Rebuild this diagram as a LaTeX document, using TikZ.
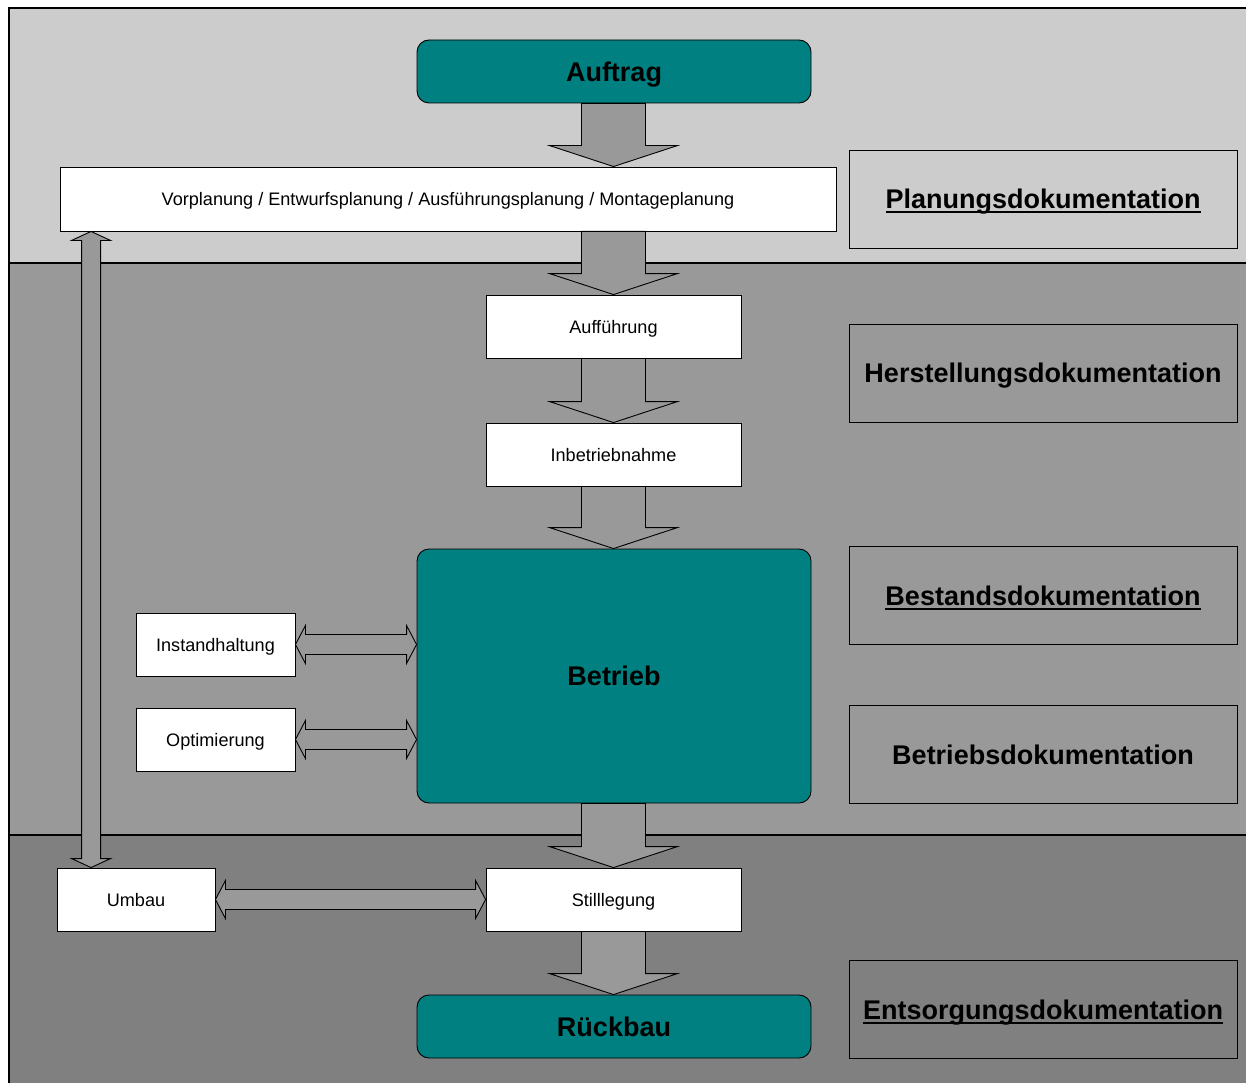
\documentclass[tikz,border=0pt]{standalone}
\usepackage{fontspec}
\setmainfont{Liberation Sans}
\usetikzlibrary{calc}
\definecolor{bandA}{HTML}{CCCCCC}
\definecolor{bandB}{HTML}{999999}
\definecolor{bandC}{HTML}{808080}
\definecolor{tealbox}{HTML}{008080}
\definecolor{arrowfill}{HTML}{999999}
\newcommand\myul[1]{\setbox0\hbox{#1}\rlap{\rule[-4.6pt]{\wd0}{2pt}}\box0}
\newcommand\vblk[2]{%
  \coordinate (bs) at (#1.south -| auf.center);
  \coordinate (be) at (#2.north -| auf.center);
  \draw[blkarrow] ($(bs)+(-32,0)$) -- ($(bs)+(32,0)$) -- ($(be)+(32,-21)$) -- ($(be)+(64,-21)$) -- (be) -- ($(be)+(-64,-21)$) -- ($(be)+(-32,-21)$) -- cycle;}
\newcommand\hdbl[2]{%
  \coordinate (hs) at (#1.east);
  \coordinate (he) at (#2.west |- #1.east);
  \draw[blkarrow] (hs) -- ($(hs)+(10,-19)$) -- ($(hs)+(10,-10)$) -- ($(he)+(-10,-10)$) -- ($(he)+(-10,-19)$) -- (he) -- ($(he)+(-10,19)$) -- ($(he)+(-10,10)$) -- ($(hs)+(10,10)$) -- ($(hs)+(10,19)$) -- cycle;}
\tikzset{
  blkarrow/.style={draw=black, fill=arrowfill, line width=0.9pt, line join=miter},
  whitebox/.style={draw=black, fill=white, line width=0.9pt, inner sep=0pt, text depth=0pt, font=\fontsize{18.1}{20}\selectfont},
  tealnode/.style={draw=black, fill=tealbox, line width=0.9pt, rounded corners=12pt, inner sep=0pt, text depth=0pt, minimum width=394pt, font=\fontsize{27}{30}\selectfont\bfseries},
  docbox/.style={draw=black, line width=0.9pt, inner sep=0pt, text depth=0pt, minimum width=388pt, minimum height=98pt, font=\fontsize{27}{30}\selectfont\bfseries},
  bandline/.style={draw=black, line width=1.2pt}
}
\begin{document}
\begin{tikzpicture}[x=1pt,y=-1pt]
\useasboundingbox (0,0) rectangle (1246,1083);
% bands
\fill[bandA] (9,8) rectangle (1246,263);
\fill[bandB] (9,263) rectangle (1246,835);
\fill[bandC] (9,835) rectangle (1246,1083);
\draw[bandline] (1246,8) -- (9,8) -- (9,1083);
\draw[bandline] (9,263) -- (1246,263);
\draw[bandline] (9,835) -- (1246,835);
% main nodes
\node[tealnode, minimum height=63pt] (auftrag) at (614,71.5) {Auftrag};
\node[whitebox, minimum width=776pt, minimum height=64pt] (vor) at (448,199) {Vorplanung / Entwurfsplanung / Ausführungsplanung / Montageplanung};
\node[whitebox, minimum width=255pt, minimum height=63pt] (auf) at (613.5,326.5) {Aufführung};
\node[whitebox, minimum width=255pt, minimum height=63pt] (inb) at (613.5,454.5) {Inbetriebnahme};
\node[tealnode, minimum height=254pt] (betrieb) at (614,676) {Betrieb};
\node[whitebox, minimum width=159pt, minimum height=63pt] (inst) at (215.5,644.5) {Instandhaltung};
\node[whitebox, minimum width=159pt, minimum height=63pt] (opt) at (215.5,739.5) {Optimierung};
\node[whitebox, minimum width=158pt, minimum height=63pt] (umbau) at (136,899.5) {Umbau};
\node[whitebox, minimum width=255pt, minimum height=63pt] (still) at (613.5,899.5) {Stilllegung};
\node[tealnode, minimum height=63pt] (rueck) at (614,1026.5) {Rückbau};
% documentation boxes
\node[docbox] (dplan) at (1043,199) {\myul{Planungsdokumentation}};
\node[docbox] (dherst) at (1043,373) {Herstellungsdokumentation};
\node[docbox] (dbest) at (1043,595.5) {\myul{Bestandsdokumentation}};
\node[docbox] (dbetr) at (1043,754.5) {Betriebsdokumentation};
\node[docbox] (dents) at (1043,1009.5) {\myul{Entsorgungsdokumentation}};
% block arrows down
\vblk{auftrag}{vor}
\vblk{vor}{auf}
\vblk{auf}{inb}
\vblk{inb}{betrieb}
\vblk{betrieb}{still}
\vblk{still}{rueck}
% horizontal double arrows
\hdbl{inst}{betrieb}
\hdbl{opt}{betrieb}
\hdbl{umbau}{still}
% vertical double arrow
\coordinate (vt) at ($(vor.south west)+(31.5,0)$);
\coordinate (vb) at (vt |- umbau.north);
\draw[blkarrow] (vt) -- ($(vt)+(19.5,9)$) -- ($(vt)+(9.5,9)$) -- ($(vb)+(9.5,-9)$) -- ($(vb)+(19.5,-9)$) -- (vb) -- ($(vb)+(-19.5,-9)$) -- ($(vb)+(-9.5,-9)$) -- ($(vt)+(-9.5,9)$) -- ($(vt)+(-19.5,9)$) -- cycle;
\end{tikzpicture}
\end{document}
